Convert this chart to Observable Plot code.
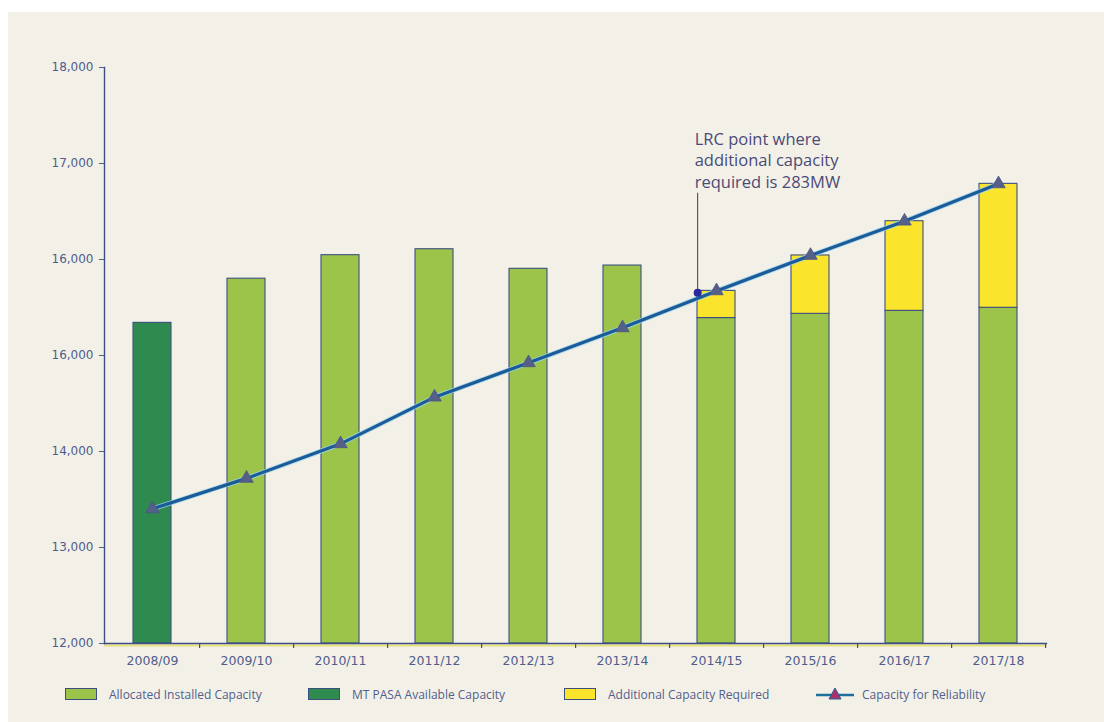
<!DOCTYPE html>
<html>
<head>
<meta charset="utf-8">
<script src="https://cdn.jsdelivr.net/npm/d3@7"></script>
<script src="https://cdn.jsdelivr.net/npm/@observablehq/plot@0.6"></script>
<style>
  html, body { margin: 0; padding: 0; background: #ffffff; }
  #panel { position: absolute; left: 8px; top: 12px; width: 1096px; height: 710px; background: #f3f1e7; overflow: hidden; }
  #chart { position: absolute; left: 0; top: 0; }
  #legend { position: absolute; left: 0; top: 672px; width: 1096px; height: 20px; font-family: "Open Sans", sans-serif; font-size: 12px; color: #51608e; }
  .item { position: absolute; top: 0; display: flex; align-items: center; height: 20px; white-space: nowrap; }
  .sw { width: 30px; height: 10px; border: 1px solid #3d4f7f; margin-right: 12px; }
</style>
</head>
<body>
<div id="panel">
  <div id="chart"></div>
  <div id="legend"></div>
</div>
<script>
// ---- data ----
const years = ["2008/09","2009/10","2010/11","2011/12","2012/13","2013/14","2014/15","2015/16","2016/17","2017/18"];
const mtPasa = [15340, null, null, null, null, null, null, null, null, null];
const allocated = [null, 15800, 16045, 16107, 15903, 15937, 15390, 15434, 15465, 15497];
const additional = [null, null, null, null, null, null, 283, 608, 934, 1291];
const reliability = [13403, 13720, 14080, 14566, 14924, 15288, 15673, 16042, 16399, 16788];
const yTicks = [12000, 13000, 14000, 15000, 16000, 17000, 18000];
const yTickLabels = ["12,000", "13,000", "14,000", "16,000", "16,000", "17,000", "18,000"];
const seriesNames = ["Allocated Installed Capacity", "MT PASA Available Capacity", "Additional Capacity Required", "Capacity for Reliability"];
const lrcYear = "2014/15";
const lrcValue = 15653;
const lrcTop = 16690;
const lrcText = "LRC point where\nadditional capacity\nrequired is 283MW";

// ---- styles ----
const colors = {
  [seriesNames[0]]: "#9cc44b",
  [seriesNames[1]]: "#2f8a4f",
  [seriesNames[2]]: "#fbe42c"
};
const edge = "#3d4f7f";
const W = 1096, H = 670, mL = 96, mR = 58, mT = 55, mB = 39;
const step = (W - mL - mR) / years.length;
const bw = step * 0.4;
const base = yTicks[0];

// ---- build the table for bars ----
const bars = [];
years.forEach((yr, i) => {
  if (mtPasa[i] != null) bars.push({year: yr, series: seriesNames[1], y1: base, y2: mtPasa[i]});
  if (allocated[i] != null) bars.push({year: yr, series: seriesNames[0], y1: base, y2: allocated[i]});
  if (additional[i] != null) bars.push({year: yr, series: seriesNames[2], y1: allocated[i], y2: allocated[i] + additional[i]});
});
const line = years.map((yr, i) => ({year: yr, value: reliability[i]}));

const plot = Plot.plot({
  width: W, height: H,
  marginLeft: mL, marginRight: mR, marginTop: mT, marginBottom: mB,
  style: {background: "transparent", fontFamily: "DejaVu Sans, sans-serif"},
  x: {type: "band", domain: years, paddingInner: 0.6, paddingOuter: 0.3, label: null},
  y: {domain: [yTicks[0], yTicks[yTicks.length - 1]], label: null},
  marks: [
    Plot.ruleY([base], {stroke: "#e9e27a", strokeWidth: 2, dy: 2}),
    Plot.barY(bars, {x: "year", y1: "y1", y2: "y2", fill: d => colors[d.series], stroke: edge, strokeWidth: 1.1}),
    Plot.frame({anchor: "left", stroke: "#3b4c86", strokeWidth: 1.4}),
    Plot.frame({anchor: "bottom", stroke: "#3b4c86", strokeWidth: 1.4}),
    Plot.ruleX(years, {x: d => d, y1: base, y2: base, dx: step / 2, insetBottom: -5, stroke: "#3b4c86", strokeWidth: 1.2}),
    Plot.axisY({ticks: yTicks, tickFormat: d => yTickLabels[yTicks.indexOf(d)], tickSize: 5, tickPadding: 6, fontSize: 12, color: "#4f5c8c", label: null}),
    Plot.axisX({tickSize: 0, tickPadding: 13, fontSize: 12.5, color: "#4f5c8c", label: null}),
    Plot.line(line, {x: "year", y: "value", stroke: "#9fd6ee", strokeWidth: 5, strokeOpacity: 0.8}),
    Plot.line(line, {x: "year", y: "value", stroke: "#1b5c98", strokeWidth: 3.2}),
    Plot.dot(line, {x: "year", y: "value", symbol: "triangle", r: 5, fill: "#55608a", stroke: "#4a557f", strokeWidth: 0.8}),
    Plot.ruleX([lrcYear], {x: d => d, y1: lrcValue, y2: lrcTop, dx: -bw / 2, stroke: "#3a3a66", strokeWidth: 1}),
    Plot.dot([lrcYear], {x: d => d, y: lrcValue, dx: -bw / 2, r: 4, fill: "#2a2a9c"}),
    Plot.text([lrcText], {x: () => lrcYear, y: lrcTop, text: d => d, dx: -bw / 2 - 3, dy: -5, textAnchor: "start", lineAnchor: "bottom", lineHeight: 1.32, fontSize: 16.5, fontFamily: "Open Sans, sans-serif", fill: "#4a4a78"})
  ]
});
document.getElementById("chart").appendChild(plot);

// ---- legend ----
const legend = document.getElementById("legend");
const lefts = [57, 300, 556, 808];
seriesNames.forEach((name, i) => {
  const it = document.createElement("div");
  it.className = "item";
  it.style.left = lefts[i] + "px";
  if (i < 3) {
    const sw = document.createElement("div");
    sw.className = "sw";
    sw.style.background = colors[name];
    it.appendChild(sw);
  } else {
    const ns = "http://www.w3.org/2000/svg";
    const s = document.createElementNS(ns, "svg");
    s.setAttribute("width", 38); s.setAttribute("height", 14);
    s.style.marginRight = "8px";
    const l = document.createElementNS(ns, "line");
    l.setAttribute("x1", 0); l.setAttribute("x2", 38); l.setAttribute("y1", 8); l.setAttribute("y2", 8);
    l.setAttribute("stroke", "#1d6f9c"); l.setAttribute("stroke-width", 2.6);
    s.appendChild(l);
    const t = document.createElementNS(ns, "path");
    t.setAttribute("d", "M19,1 L25,12 L13,12 Z");
    t.setAttribute("fill", "#a8306c"); t.setAttribute("stroke", "#2f5f8f"); t.setAttribute("stroke-width", 1);
    s.appendChild(t);
    it.appendChild(s);
  }
  const tx = document.createElement("span");
  tx.textContent = name;
  it.appendChild(tx);
  legend.appendChild(it);
});
</script>
</body>
</html>
